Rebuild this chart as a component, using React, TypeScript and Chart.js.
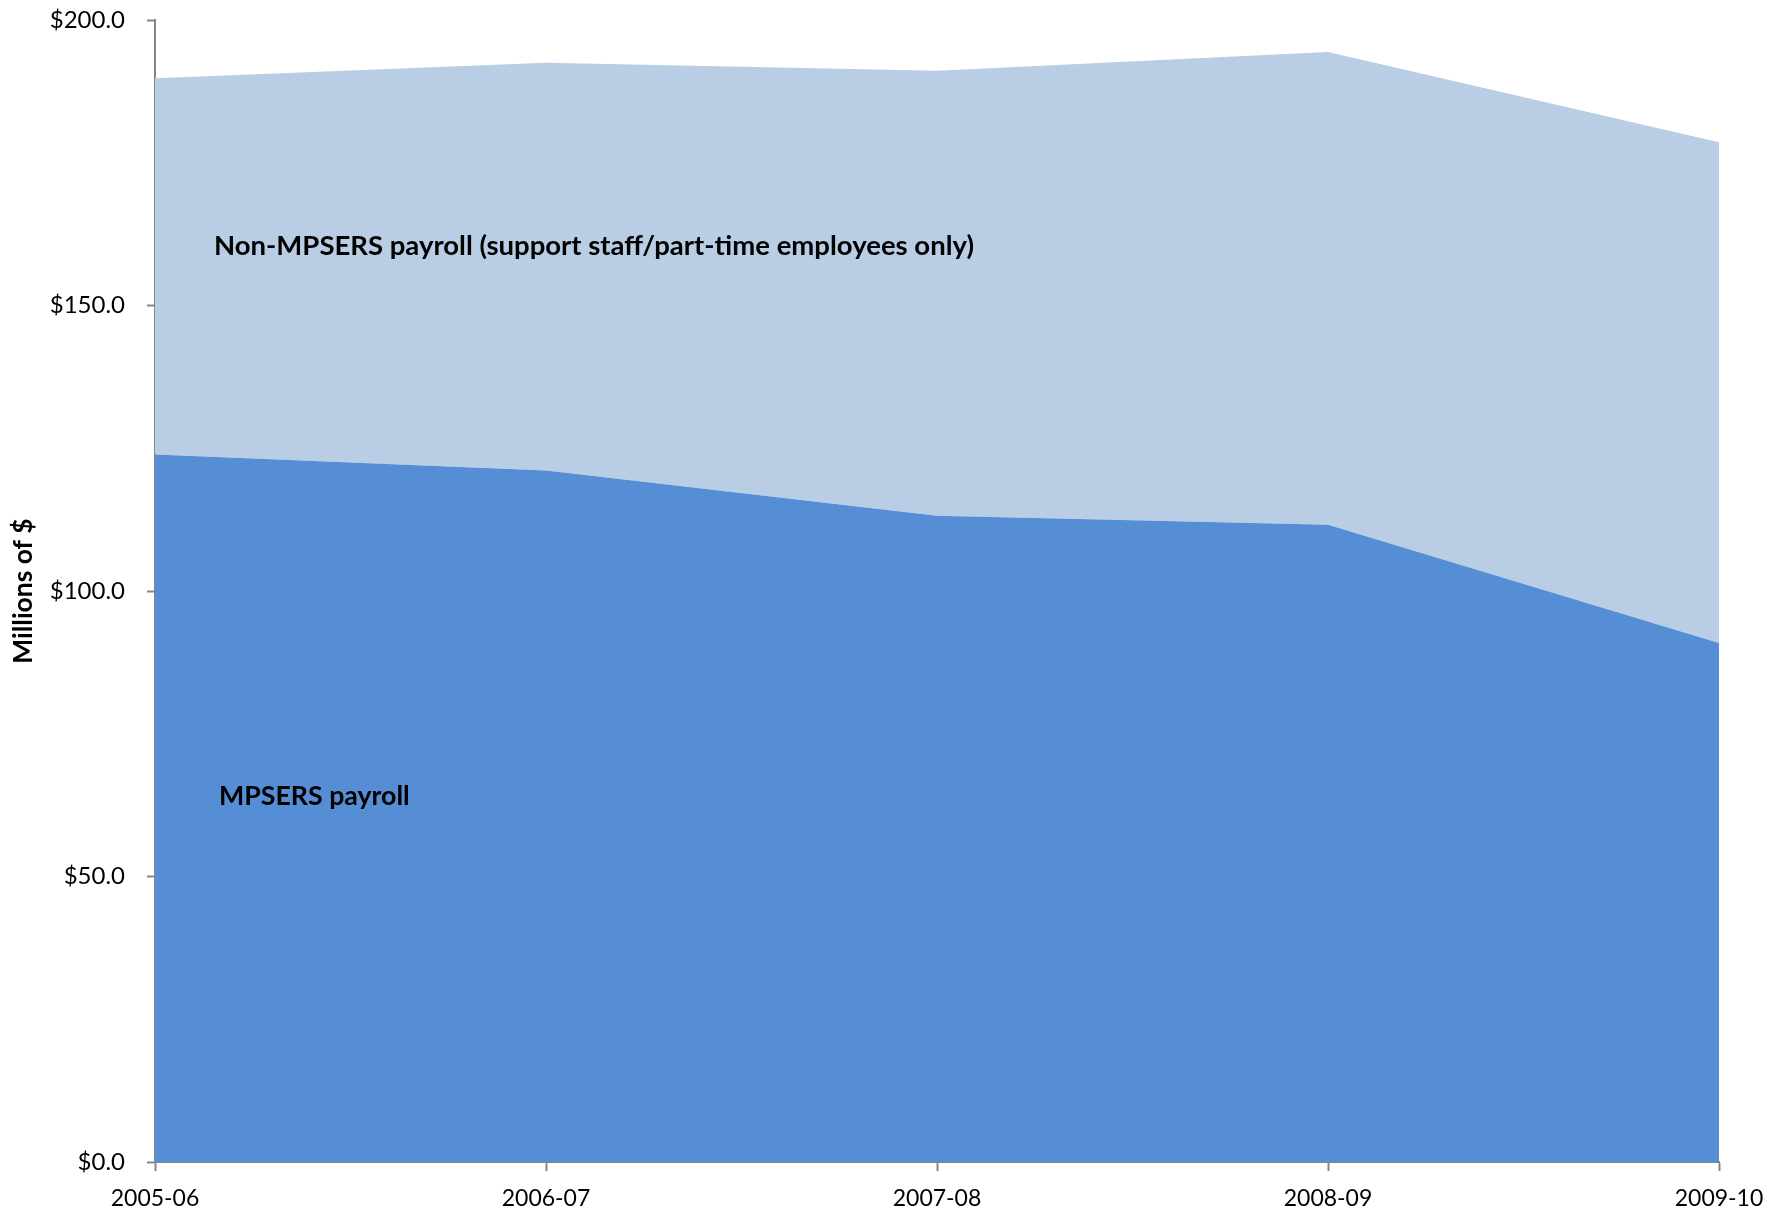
import React, { useEffect, useRef } from "react";
import { Chart, registerables } from "chart.js";

Chart.register(...registerables);

const categories = ["2005-06", "2006-07", "2007-08", "2008-09", "2009-10"];
const mpsersPayroll = [123.9, 121.1, 113.2, 111.6, 90.9];
const nonMpsersPayroll = [65.9, 71.4, 77.9, 82.8, 87.7];
const yTicks = [0, 50, 100, 150, 200];

const mpsersLabel = "MPSERS payroll";
const nonMpsersLabel = "Non-MPSERS payroll (support staff/part-time employees only)";

const FONT = "Lato, 'DejaVu Sans', sans-serif";

const labelPlugin = {
  id: "areaLabels",
  afterDatasetsDraw(chart: any) {
    const { ctx, scales } = chart;
    const x = scales.x;
    const y = scales.y;
    const x0 = x.getPixelForValue(0);
    const x1 = x.getPixelForValue(1);
    const at = (frac: number) => x0 + (x1 - x0) * frac;
    ctx.save();
    ctx.fillStyle = "#000000";
    ctx.textAlign = "left";
    ctx.textBaseline = "alphabetic";
    ctx.font = `bold 27.5px ${FONT}`;
    ctx.fillText(nonMpsersLabel, at(0.151), y.getPixelForValue(158.8));
    ctx.font = `bold 26.7px ${FONT}`;
    ctx.fillText(mpsersLabel, at(0.164), y.getPixelForValue(62.6));
    ctx.restore();
  },
};

export default function App() {
  const ref = useRef<HTMLCanvasElement | null>(null);

  useEffect(() => {
    if (!ref.current) return;
    const chart = new Chart(ref.current, {
      type: "line",
      data: {
        labels: categories,
        datasets: [
          {
            label: mpsersLabel,
            data: mpsersPayroll,
            backgroundColor: "#558ED5",
            borderColor: "#558ED5",
            borderWidth: 0,
            pointRadius: 0,
            fill: "origin",
            tension: 0,
          },
          {
            label: nonMpsersLabel,
            data: nonMpsersPayroll,
            backgroundColor: "#B9CDE5",
            borderColor: "#B9CDE5",
            borderWidth: 0,
            pointRadius: 0,
            fill: "-1",
            tension: 0,
          },
        ],
      },
      options: {
        animation: false,
        responsive: false,
        maintainAspectRatio: false,
        devicePixelRatio: 1,
        layout: { padding: { left: 0, top: 20, right: 69, bottom: 0 } },
        plugins: {
          legend: { display: false },
          tooltip: { enabled: false },
          title: { display: false },
        },
        scales: {
          x: {
            type: "category",
            offset: false,
            grid: {
              display: true,
              drawOnChartArea: false,
              drawTicks: true,
              tickLength: 9,
              tickColor: "#868686",
              tickWidth: 2,
            },
            border: { display: true, color: "#868686", width: 2 },
            ticks: {
              color: "#000000",
              font: { family: FONT, size: 23 },
              padding: 14,
              maxRotation: 0,
              autoSkip: false,
            },
            afterFit(scale: any) {
              scale.height = 52;
            },
          },
          y: {
            stacked: true,
            min: 0,
            max: 200,
            afterBuildTicks(scale: any) {
              scale.ticks = yTicks.map((v) => ({ value: v }));
            },
            grid: {
              display: true,
              drawOnChartArea: false,
              drawTicks: true,
              tickLength: 8,
              tickColor: "#868686",
              tickWidth: 2,
            },
            border: { display: true, color: "#868686", width: 2 },
            ticks: {
              color: "#000000",
              font: { family: FONT, size: 24 },
              padding: 22,
              callback: (v: any) => "$" + Number(v).toFixed(1),
            },
            title: {
              display: true,
              text: "Millions of $",
              color: "#000000",
              font: { family: FONT, size: 26.4, weight: "bold" },
              padding: { top: 8, bottom: 0 },
            },
            afterFit(scale: any) {
              scale.width = 155;
              scale.paddingTop = 0;
              scale.paddingBottom = 0;
            },
          },
        },
      },
      plugins: [labelPlugin],
    });
    return () => chart.destroy();
  }, []);

  return (
    <div style={{ position: "absolute", left: 0, top: 0, width: 1788, height: 1214, background: "#ffffff" }}>
      <canvas ref={ref} width={1788} height={1214} style={{ width: 1788, height: 1214, display: "block" }} />
    </div>
  );
}
